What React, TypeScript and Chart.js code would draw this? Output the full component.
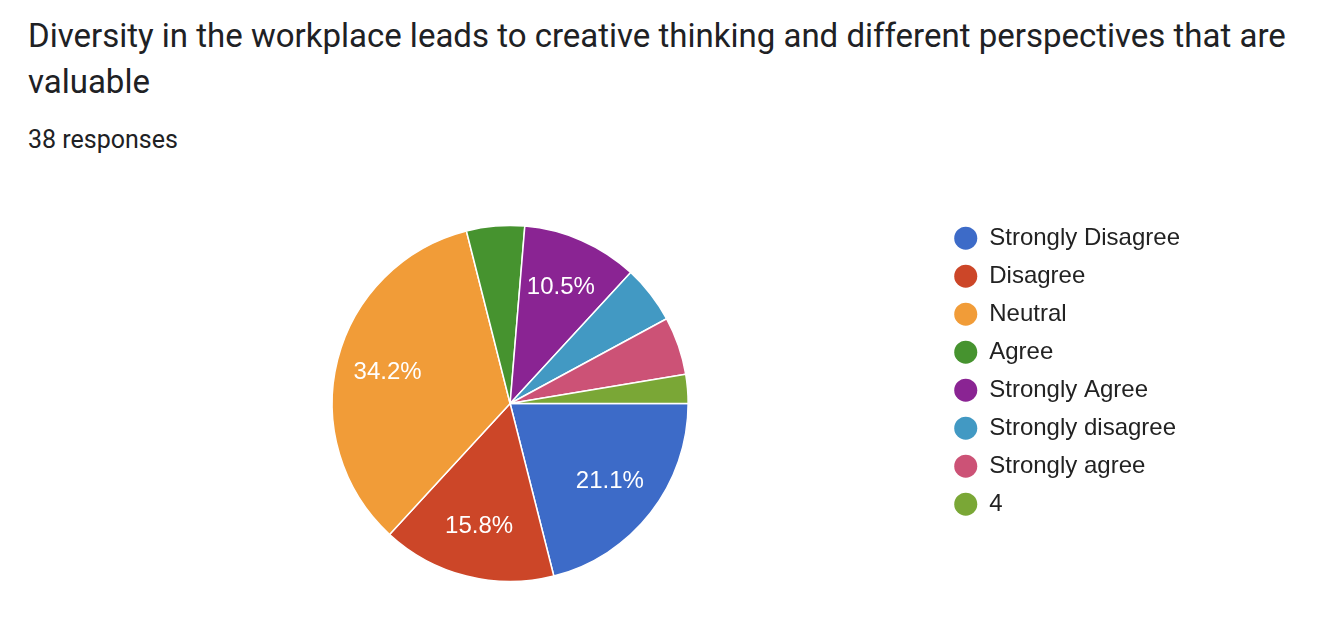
import React, { useEffect, useRef } from "react";
import { Chart, registerables } from "chart.js";

Chart.register(...registerables);

const TITLE =
  "Diversity in the workplace leads to creative thinking and different perspectives that are valuable";
const SUBTITLE = "38 responses";
const categories = [
  "Strongly Disagree",
  "Disagree",
  "Neutral",
  "Agree",
  "Strongly Agree",
  "Strongly disagree",
  "Strongly agree",
  "4",
];
const counts = [8, 6, 13, 2, 4, 2, 2, 1];
const colors = [
  "#3d6bc8",
  "#cc4628",
  "#f19c38",
  "#46932f",
  "#8a2493",
  "#4299c3",
  "#cc5276",
  "#7aa736",
];

const ARIAL = '"Liberation Sans", Arial, sans-serif';

const pctLabels = {
  id: "pctLabels",
  afterDatasetsDraw(chart: any) {
    const ctx = chart.ctx;
    const meta = chart.getDatasetMeta(0);
    const data = chart.data.datasets[0].data as number[];
    const total = data.reduce((a, b) => a + b, 0);
    ctx.save();
    ctx.fillStyle = "#ffffff";
    ctx.font = "24px " + ARIAL;
    ctx.textAlign = "center";
    ctx.textBaseline = "middle";
    meta.data.forEach((arc: any, i: number) => {
      const frac = data[i] / total;
      if (frac < 0.08) return;
      const { x, y, startAngle, endAngle, outerRadius } = arc.getProps(
        ["x", "y", "startAngle", "endAngle", "outerRadius"],
        true
      );
      const mid = (startAngle + endAngle) / 2;
      const r = outerRadius * 0.71;
      ctx.fillText(
        (frac * 100).toFixed(1) + "%",
        x + Math.cos(mid) * r,
        y + Math.sin(mid) * r
      );
    });
    ctx.restore();
  },
};

export default function App() {
  const ref = useRef<HTMLCanvasElement | null>(null);

  useEffect(() => {
    if (!ref.current) return;
    const chart = new Chart(ref.current, {
      type: "pie",
      data: {
        labels: categories,
        datasets: [
          {
            data: counts,
            backgroundColor: colors,
            borderColor: "#ffffff",
            borderWidth: 1.5,
            radius: 178,
          } as any,
        ],
      },
      options: {
        animation: false,
        responsive: false,
        rotation: 90,
        layout: {
          padding: { top: 212.2, bottom: 25.2, left: 80, right: 134 },
        },
        plugins: {
          tooltip: { enabled: false },
          legend: {
            position: "right",
            align: "start",
            labels: {
              usePointStyle: true,
              pointStyle: "circle",
              pointStyleWidth: 23,
              boxHeight: 16.26,
              padding: 14,
              color: "#222222",
              font: { family: ARIAL, size: 24 },
              generateLabels: () =>
                categories.map((c, i) => ({
                  text: c,
                  fillStyle: colors[i],
                  strokeStyle: colors[i],
                  lineWidth: 0,
                  pointStyle: "circle",
                  hidden: false,
                  index: i,
                  fontColor: "#222222",
                })),
            },
          },
        },
      } as any,
      plugins: [pctLabels],
    });
    return () => chart.destroy();
  }, []);

  return (
    <div
      style={{
        position: "absolute",
        left: 0,
        top: 0,
        width: 1324,
        height: 620,
        background: "#ffffff",
        overflow: "hidden",
      }}
    >
      <div
        style={{
          position: "absolute",
          left: 28,
          top: 12.8,
          width: 1290,
          fontFamily: "Roboto, sans-serif",
          fontSize: 33,
          lineHeight: "46px",
          color: "#202124",
        }}
      >
        {TITLE}
      </div>
      <div
        style={{
          position: "absolute",
          left: 28,
          top: 124.5,
          fontFamily: "Roboto, sans-serif",
          fontSize: 25,
          lineHeight: "30px",
          color: "#202124",
        }}
      >
        {SUBTITLE}
      </div>
      <canvas
        ref={ref}
        width={1324}
        height={620}
        style={{ position: "absolute", left: 0, top: 0, display: "block" }}
      />
    </div>
  );
}
